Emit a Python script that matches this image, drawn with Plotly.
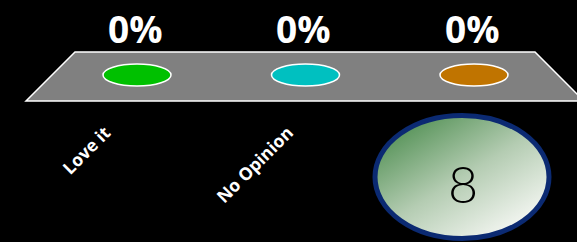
import base64
import plotly.graph_objects as go

# ---- data ----
categories = ["Love it", "No Opinion", "Other"]
tick_labels = ["Love it", "No Opinion", ""]
values = [0, 0, 0]            # percent
bar_colors = ["#00c000", "#00c0c0", "#c07400"]
countdown = "8"

W, H = 577, 242
cat_px0, cat_step = 137.0, 168.5   # pixel of first category, spacing
xs = list(range(len(categories)))

fig = go.Figure()
# invisible trace to bind axes to the categories
fig.add_trace(go.Scatter(x=xs, y=values, mode="markers",
                         marker=dict(opacity=0), hoverinfo="skip", showlegend=False))

def px_to_paper(x, y):
    return x / W, 1 - y / H

# 3D floor (decoration)
floor = [(75, 52), (535, 52), (584, 101), (26, 101)]
pts = [px_to_paper(*p) for p in floor]
path = "M " + " L ".join(f"{a:.5f},{b:.5f}" for a, b in pts) + " Z"
fig.add_shape(type="path", path=path, xref="paper", yref="paper",
              fillcolor="#808080", line=dict(color="#ffffff", width=1.5), layer="below")

# zero-height bars -> top ellipses only
for i, (v, c) in enumerate(zip(values, bar_colors)):
    fig.add_shape(type="circle", xref="x", yref="y",
                  xsizemode="pixel", xanchor=i, x0=-34, x1=34,
                  ysizemode="pixel", yanchor=v, y0=-11, y1=11,
                  fillcolor=c, line=dict(color="#ffffff", width=1.5), layer="above")
    fig.add_annotation(x=i, y=v, xref="x", yref="y", text=f"{v}%",
                       showarrow=False, xshift=-2, yshift=47,
                       xanchor="center", yanchor="middle",
                       font=dict(family="Open Sans", size=37, color="#ffffff", weight="bold"))

# category labels, rotated
for i, lab in enumerate(tick_labels):
    if not lab:
        continue
    fig.add_annotation(x=i, y=1 - 118 / H, xref="x", yref="paper", text=lab,
                       showarrow=False, textangle=-45, xanchor="center", yanchor="top",
                       xshift=-51,
                       font=dict(family="Open Sans", size=17.5, color="#ffffff", weight="bold"))

# countdown bubble (gradient ellipse as svg image)
svg = """<svg xmlns='http://www.w3.org/2000/svg' width='180' height='128' viewBox='0 0 180 128'>
<defs><linearGradient id='g' x1='0.15' y1='0.1' x2='0.85' y2='0.9'>
<stop offset='0' stop-color='#58945a'/><stop offset='0.5' stop-color='#b4ccb2'/>
<stop offset='1' stop-color='#f5f7f3'/></linearGradient></defs>
<ellipse cx='90' cy='64' rx='87' ry='61.5' fill='url(#g)' stroke='#0b2a72' stroke-width='5'/>
</svg>"""
src = "data:image/svg+xml;base64," + base64.b64encode(svg.encode()).decode()
fig.add_layout_image(source=src, xref="paper", yref="paper",
                     x=372 / W, y=1 - 113 / H, sizex=180 / W, sizey=128 / H,
                     xanchor="left", yanchor="top", sizing="stretch", layer="above")
fig.add_annotation(x=463 / W, y=1 - 183 / H, xref="paper", yref="paper", text=countdown,
                   showarrow=False, xanchor="center", yanchor="middle",
                   font=dict(family="Lato", size=52, color="#000000", weight=300))

x_lo = -cat_px0 / cat_step
x_hi = (W - cat_px0) / cat_step
fig.update_layout(
    width=W, height=H, margin=dict(l=0, r=0, t=0, b=0),
    paper_bgcolor="#000000", plot_bgcolor="#000000",
    xaxis=dict(range=[x_lo, x_hi], visible=False, fixedrange=True),
    yaxis=dict(range=[-69, 31], visible=False, fixedrange=True),
    showlegend=False,
)
fig.write_html("out.html", config={"displayModeBar": False},
               post_script="document.body.style.margin='0';document.body.style.overflow='hidden';document.body.style.background='#000';")
